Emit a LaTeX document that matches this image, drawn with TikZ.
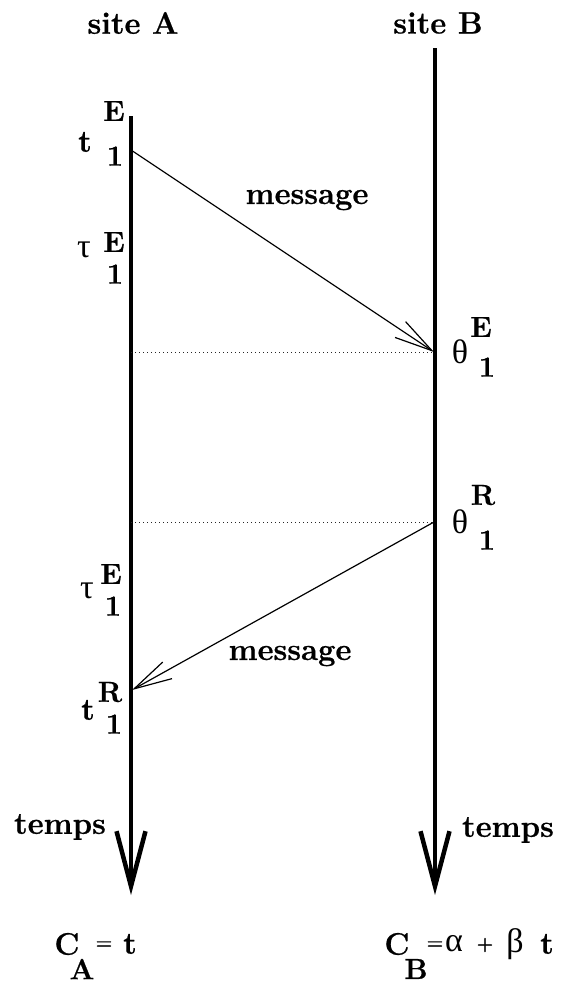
\documentclass[tikz,border=0pt]{standalone}
\usepackage{fontspec}
\newfontfamily\grk{Liberation Serif}
\newfontfamily\heavy{Latin Modern Roman}[FakeBold=0.7]
\usetikzlibrary{arrows.meta}
\begin{document}
\begin{tikzpicture}[x=1pt,y=-1pt,
  lbl/.style={inner sep=0pt, font=\fontsize{31}{36}\selectfont\heavy\bfseries},
  scr/.style={inner sep=0pt, font=\fontsize{29}{34}\selectfont\heavy\bfseries},
  opsym/.style={inner sep=0pt, font=\fontsize{19}{22}\selectfont\heavy\bfseries},
  gk/.style={inner sep=0pt, font=\fontsize{34}{40}\selectfont\grk},
  timeline/.style={line width=4.5pt, -{Straight Barb[length=55pt,width=29pt]}},
  msg/.style={line width=1.2pt, -{Straight Barb[length=38pt,width=19pt]}},
  guide/.style={line width=1pt, black!85, dash pattern=on 1pt off 3pt},
]
\useasboundingbox (0,0) rectangle (560,983);

% time lines
\coordinate (Atop) at (131,116);
\coordinate (Abot) at (131,895);
\coordinate (Btop) at (435,48);
\coordinate (Bbot) at (435,895);
\draw[timeline] (Atop) -- (Abot);
\draw[timeline] (Btop) -- (Bbot);

% events
\coordinate (sA1) at (131,150);
\coordinate (rB1) at (434,352);
\coordinate (dA1) at (131,352);
\coordinate (sB2) at (434,522);
\coordinate (dA2) at (131,522);
\coordinate (rA2) at (132,690);

\draw[guide] (dA1) -- (rB1);
\draw[guide] (dA2) -- (sB2);
\draw[msg] (sA1) -- (rB1);
\draw[msg] (sB2) -- (rA2);

% headers
\node[lbl] (siteA) at (133,23) {site A};
\node[lbl] (siteB) at (438,23) {site B};
\node[lbl] (msg1) at (307,200) {message};
\node[lbl] (msg2) at (290,656) {message};
\node[lbl] (tempsA) at (60,827) {temps};
\node[lbl] (tempsB) at (508,830) {temps};

% t^E_1
\node[lbl] (t1) at (85,142) {t};
\node[scr] (t1sup) at (114,111) {E};
\node[scr] (t1sub) at (115,156) {1};
% tau^E_1 (first)
\node[gk] (tau1) at (84,250) {τ};
\node[scr] (tau1sup) at (114,242) {E};
\node[scr] (tau1sub) at (115,274) {1};
% tau^E_1 (second)
\node[gk] (tau2) at (87,591) {τ};
\node[scr] (tau2sup) at (111,574) {E};
\node[scr] (tau2sub) at (113,606) {1};
% t^R_1
\node[lbl] (t2) at (88,710) {t};
\node[scr] (t2sup) at (110,692) {R};
\node[scr] (t2sub) at (114,724) {1};
% theta^E_1
\node[gk] (th1) at (460,352) {θ};
\node[scr] (th1sup) at (481,327) {E};
\node[scr] (th1sub) at (487,367) {1};
% theta^R_1
\node[gk] (th2) at (460,522) {θ};
\node[scr] (th2sup) at (483,495) {R};
\node[scr] (th2sub) at (487,540) {1};

% clocks
\node[lbl] (CA) at (67,944) {C};
\node[scr] (CAsub) at (82,969) {A};
\node[opsym] (CAeq) at (104,945) {=};
\node[lbl] (CAt) at (130,944) {t};

\node[lbl] (CB) at (397,944) {C};
\node[scr] (CBsub) at (416,969) {B};
\node[opsym] (CBeq) at (435,945) {=};
\node[gk] (CBal) at (454,944) {α};
\node[opsym] (CBplus) at (485,945) {+};
\node[gk] (CBbe) at (515,944) {β};
\node[lbl] (CBt) at (547,944) {t};
\end{tikzpicture}
\end{document}
